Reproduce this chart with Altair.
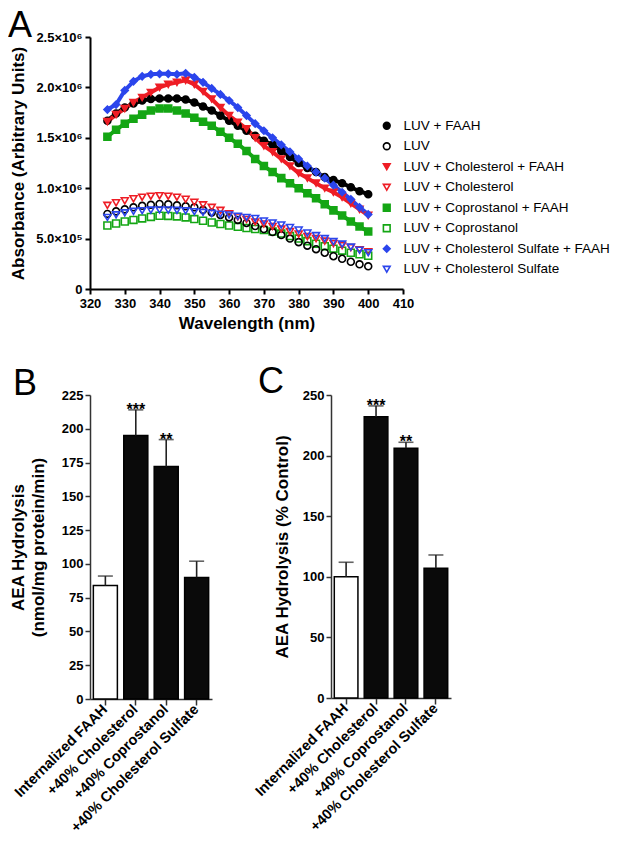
import altair as alt
import pandas as pd

FONT = "Liberation Sans"

# ---------------- Panel A data (absorbance in units of 10^6) ----------------
wavelength = [325, 327.5, 330, 332.5, 335, 337.5, 340, 342.5, 345, 347.5, 350,
              352.5, 355, 357.5, 360, 362.5, 365, 367.5, 370, 372.5, 375,
              377.5, 380, 382.5, 385, 387.5, 390, 392.5, 395, 397.5, 400]

luv_faah = [1.67, 1.74, 1.80, 1.84, 1.87, 1.885, 1.89, 1.89, 1.89, 1.88, 1.85,
            1.81, 1.77, 1.72, 1.67, 1.62, 1.57, 1.52, 1.47, 1.43, 1.37,
            1.31, 1.25, 1.20, 1.16, 1.11, 1.08, 1.05, 1.01, 0.97, 0.94]
luv = [0.745, 0.77, 0.79, 0.81, 0.825, 0.835, 0.843, 0.84, 0.83, 0.82, 0.81,
       0.785, 0.76, 0.735, 0.71, 0.685, 0.655, 0.625, 0.595, 0.565, 0.535,
       0.50, 0.465, 0.43, 0.395, 0.36, 0.325, 0.30, 0.27, 0.245, 0.225]
chol_faah = [1.66, 1.73, 1.79, 1.85, 1.90, 1.95, 2.00, 2.03, 2.05, 2.07, 2.03,
             1.96, 1.885, 1.80, 1.72, 1.655, 1.59, 1.50, 1.42, 1.36, 1.29,
             1.22, 1.15, 1.10, 1.05, 1.00, 0.96, 0.91, 0.85, 0.79, 0.73]
chol = [0.83, 0.855, 0.875, 0.895, 0.91, 0.92, 0.925, 0.92, 0.91, 0.89, 0.86,
        0.835, 0.81, 0.78, 0.745, 0.715, 0.69, 0.665, 0.645, 0.62, 0.595,
        0.57, 0.545, 0.52, 0.50, 0.475, 0.45, 0.43, 0.41, 0.39, 0.37]
copro_faah = [1.51, 1.58, 1.64, 1.69, 1.73, 1.77, 1.79, 1.79, 1.77, 1.74, 1.70,
              1.66, 1.62, 1.56, 1.50, 1.44, 1.37, 1.29, 1.22, 1.16, 1.10,
              1.05, 1.00, 0.95, 0.90, 0.84, 0.78, 0.73, 0.67, 0.62, 0.57]
copro = [0.63, 0.65, 0.67, 0.685, 0.70, 0.715, 0.727, 0.725, 0.72, 0.71, 0.694,
         0.677, 0.66, 0.645, 0.63, 0.617, 0.605, 0.595, 0.585, 0.57, 0.55,
         0.525, 0.50, 0.475, 0.45, 0.425, 0.40, 0.38, 0.36, 0.345, 0.33]
sulf_faah = [1.78, 1.83, 1.97, 2.06, 2.11, 2.13, 2.135, 2.135, 2.13, 2.14, 2.10,
             2.05, 1.99, 1.93, 1.87, 1.80, 1.72, 1.64, 1.57, 1.50, 1.43,
             1.36, 1.29, 1.22, 1.16, 1.10, 1.03, 0.96, 0.89, 0.81, 0.74]
sulf = [0.71, 0.735, 0.755, 0.77, 0.777, 0.782, 0.784, 0.783, 0.78, 0.775, 0.767,
        0.76, 0.75, 0.742, 0.734, 0.722, 0.71, 0.70, 0.675, 0.655, 0.635,
        0.61, 0.585, 0.555, 0.53, 0.50, 0.47, 0.445, 0.415, 0.385, 0.36]

series_names = ["LUV + FAAH", "LUV", "LUV + Cholesterol + FAAH", "LUV + Cholesterol",
                "LUV + Coprostanol + FAAH", "LUV + Coprostanol",
                "LUV + Cholesterol Sulfate + FAAH", "LUV + Cholesterol Sulfate"]
series_values = [luv_faah, luv, chol_faah, chol, copro_faah, copro, sulf_faah, sulf]
BLACK, RED, GREEN, BLUE = "#000000", "#ee1d25", "#14a614", "#2b45ec"
series_stroke = [BLACK, BLACK, RED, RED, GREEN, GREEN, BLUE, BLUE]
series_fill = [BLACK, "transparent", RED, "transparent", GREEN, "transparent", BLUE, "transparent"]
series_shape = ["circle", "circle", "triangle-down", "triangle-down",
                "square", "square", "diamond", "triangle-down"]
draw_order = [5, 1, 3, 7, 4, 0, 2, 6]

xticks_a = [320, 330, 340, 350, 360, 370, 380, 390, 400, 410]
yticks_a = [0, 0.5, 1.0, 1.5, 2.0, 2.5]
ylabels_a = ["0", "5.0×10⁵", "1.0×10⁶", "1.5×10⁶", "2.0×10⁶", "2.5×10⁶"]

# ---------------- Panels B and C data ----------------
conditions = ["Internalized FAAH", "+40% Cholesterol", "+40% Coprostanol",
              "+40% Cholesterol Sulfate"]
group_kind = ["control", "treated", "treated", "treated"]
b_mean = [84, 195, 172, 90]
b_sem = [7, 19, 20, 12]
c_mean = [100, 232, 206, 107]
c_sem = [12, 9, 5, 11]
stars = ["", "***", "**", ""]
yticks_b = [0, 25, 50, 75, 100, 125, 150, 175, 200, 225]
yticks_c = [0, 50, 100, 150, 200, 250]

# ---------------- Panel A ----------------
rows = []
for z, idx in enumerate(draw_order):
    for w, v in zip(wavelength, series_values[idx]):
        rows.append({"series": series_names[idx], "wavelength": w,
                     "absorbance": v, "z": z})
df_a = pd.DataFrame(rows)

label_expr = " : ".join(
    f"datum.value == {v} ? '{l}'" for v, l in zip(yticks_a, ylabels_a)) + " : ''"

axis_a_common = dict(grid=False, domainWidth=2, domainColor="black", tickWidth=2,
                     tickColor="black", tickSize=5, labelFont=FONT, labelFontSize=13,
                     labelFontWeight="bold", labelColor="black", titleFont=FONT,
                     titleFontSize=17, titleFontWeight="bold", titleColor="black",
                     labelOverlap=False)

x_a = alt.X("wavelength:Q", scale=alt.Scale(domain=[320, 410], nice=False, zero=False),
            axis=alt.Axis(values=xticks_a, title="Wavelength (nm)", labelFlush=False,
                          labelPadding=3, titlePadding=5, **axis_a_common))
y_a = alt.Y("absorbance:Q", scale=alt.Scale(domain=[0, 2.5], nice=False),
            axis=alt.Axis(values=yticks_a, labelExpr=label_expr,
                          title="Absorbance (Arbitrary Units)", labelPadding=3,
                          titlePadding=8, **axis_a_common))

legend_a = alt.Legend(title=None, orient="none", legendX=290, legendY=82,
                      labelFont=FONT, labelFontSize=13.5, labelColor="black",
                      symbolSize=45, symbolStrokeWidth=1.6, rowPadding=5.5,
                      labelOffset=10, padding=0, labelLimit=400)

lines_a = []
for idx in [4, 0, 2, 6]:
    sub = df_a[df_a["series"] == series_names[idx]]
    lines_a.append(alt.Chart(sub).mark_line(color=series_stroke[idx], strokeWidth=4)
                   .encode(x=x_a, y=y_a))

points_a = alt.Chart(df_a).mark_point(size=48, strokeWidth=1.6, opacity=1).encode(
    x=x_a, y=y_a,
    stroke=alt.Stroke("series:N", scale=alt.Scale(domain=series_names, range=series_stroke),
                      legend=legend_a),
    fill=alt.Fill("series:N", scale=alt.Scale(domain=series_names, range=series_fill),
                  legend=legend_a),
    shape=alt.Shape("series:N", scale=alt.Scale(domain=series_names, range=series_shape),
                    legend=legend_a),
    order=alt.Order("z:Q"),
)


def letter(t, dx, dy):
    return alt.Chart(pd.DataFrame({"t": [t]})).mark_text(
        align="left", baseline="alphabetic", font=FONT, fontSize=36, color="black"
    ).encode(text="t:N", x=alt.value(dx), y=alt.value(dy))


panel_a = alt.layer(*lines_a, points_a, letter("A", -82, 0)).properties(
    width=313, height=252)

# ---------------- Panels B, C ----------------
AX_GRAY = "#333333"


def bar_panel(means, sems, yticks, ymax, title, title_pad, width, height,
              let, let_dx, let_dy):
    df = pd.DataFrame({"condition": conditions, "kind": group_kind, "mean": means,
                       "sem": sems, "star": stars})
    df["top"] = df["mean"] + df["sem"]
    x = alt.X("condition:N", sort=conditions, title=None,
              scale=alt.Scale(paddingInner=0.21, paddingOuter=0.11),
              axis=alt.Axis(labelAngle=-45, labelAlign="right", labelBaseline="middle",
                            labelFont=FONT, labelFontSize=14.5, labelFontWeight="bold",
                            labelColor="black", domainColor=AX_GRAY, domainWidth=1.5,
                            tickColor=AX_GRAY, tickWidth=1.5, tickSize=6, labelPadding=2,
                            labelLimit=400))
    yscale = alt.Scale(domain=[0, ymax], nice=False)
    y_axis = alt.Axis(values=yticks, title=title, grid=False, labelFont=FONT,
                      labelFontSize=13, labelFontWeight="bold", labelColor="black",
                      titleFont=FONT, titleFontSize=17, titleFontWeight="bold",
                      titleColor="black", titleLineHeight=20, titlePadding=title_pad,
                      domainColor=AX_GRAY, domainWidth=1.5, tickColor=AX_GRAY,
                      tickWidth=1.5, tickSize=5, labelPadding=2, labelOverlap=False)
    base = alt.Chart(df).encode(x=x)
    bars = base.mark_bar(stroke="black", strokeWidth=1.5).encode(
        y=alt.Y("mean:Q", scale=yscale, axis=y_axis),
        fill=alt.condition(alt.datum.kind == "control", alt.value("white"),
                           alt.value("#0a0a0a")))
    rule = base.mark_rule(color="#222222", strokeWidth=1.6).encode(
        y=alt.Y("mean:Q", scale=yscale, axis=y_axis), y2="top:Q")
    cap = base.mark_tick(color="#222222", size=15, thickness=1.6).encode(
        y=alt.Y("top:Q", scale=yscale, axis=y_axis))
    star_t = base.mark_text(baseline="alphabetic", dy=5, font=FONT, fontSize=16,
                            fontWeight="bold", color="black").encode(
        y=alt.Y("top:Q", scale=yscale, axis=y_axis), text="star:N")
    return alt.layer(bars, rule, cap, star_t, letter(let, let_dx, let_dy)).properties(
        width=width, height=height)


panel_b = bar_panel(b_mean, b_sem, yticks_b, 225,
                    ["AEA Hydrolysis", "(nmol/mg protein/min)"], 14, 122, 304,
                    "B", -77, 0)
panel_c = bar_panel(c_mean, c_sem, yticks_c, 250,
                    "AEA Hydrolysis (% Control)", 11, 120, 303, "C", -73, -2)

bottom = alt.hconcat(panel_b, panel_c, spacing=40)

chart = alt.concat(panel_a, bottom, columns=1, spacing=33).properties(
    align="none", padding=0
).configure_view(stroke=None).configure_axis(grid=False)

chart.save("out.html", embed_options={"renderer": "svg", "actions": False})
